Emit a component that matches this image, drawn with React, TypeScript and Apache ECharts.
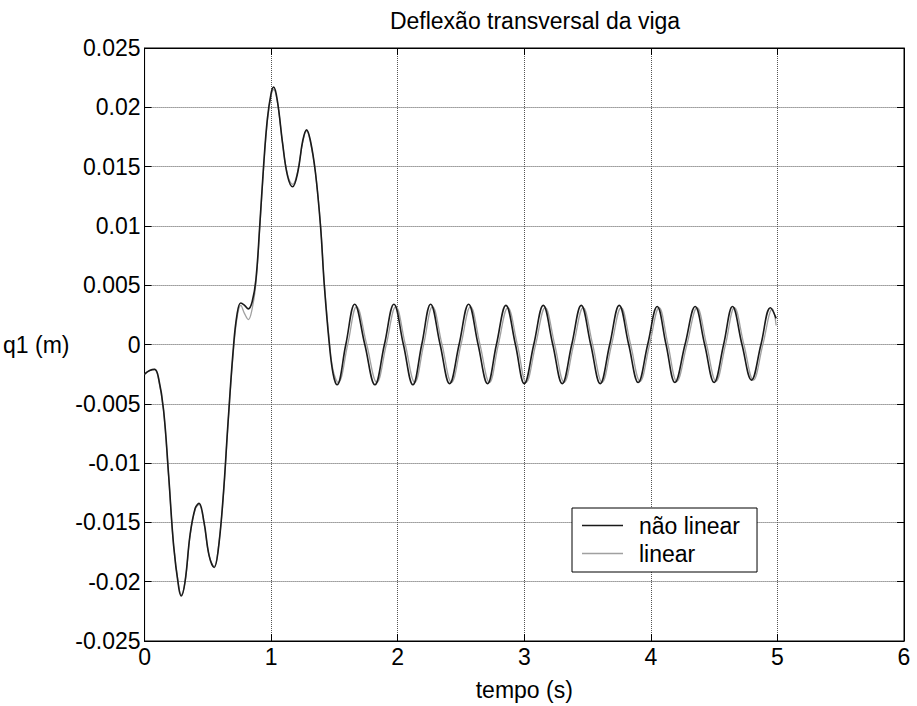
import React, { useEffect, useRef } from 'react';
import * as echarts from 'echarts';

const chartTitle = 'Deflexão transversal da viga';
const xAxisName = 'tempo (s)';
const yAxisName = 'q1 (m)';
const seriesNames = ['não linear', 'linear'];

const xMin = 0;
const xMax = 6;
const xStep = 1;
const yMin = -0.025;
const yMax = 0.025;
const yStep = 0.005;

// "não linear" response
const timeNaoLinear = [
  0.0, 0.04, 0.08, 0.11, 0.15, 0.19, 0.23, 0.27, 0.29, 0.32,
  0.36, 0.4, 0.43, 0.47, 0.51, 0.55, 0.58, 0.62, 0.66, 0.7,
  0.73, 0.76, 0.79, 0.82, 0.85, 0.88, 0.91, 0.94, 0.97, 1.0,
  1.02, 1.05, 1.09, 1.13, 1.17, 1.21, 1.25, 1.28, 1.31, 1.35,
  1.39, 1.42, 1.46, 1.49, 1.52,
  1.59, 1.66, 1.74, 1.82, 1.895, 1.97, 2.045, 2.12, 2.19, 2.26,
  2.335, 2.41, 2.485, 2.56, 2.635, 2.71, 2.78, 2.855, 2.93, 3.0,
  3.075, 3.15, 3.225, 3.3, 3.375, 3.45, 3.525, 3.6, 3.675, 3.75,
  3.825, 3.9, 3.975, 4.05, 4.12, 4.19, 4.27, 4.35, 4.425, 4.5,
  4.575, 4.645, 4.72, 4.795, 4.87, 4.945, 4.99,
];
const qNaoLinear = [
  -0.0025, -0.0022, -0.0021, -0.0028, -0.0055, -0.011, -0.017, -0.0205, -0.0212, -0.02,
  -0.016, -0.0138, -0.0134, -0.015, -0.0178, -0.0188, -0.0175, -0.013, -0.0065, -0.0005,
  0.0025, 0.0035, 0.0033, 0.003, 0.0036, 0.0055, 0.01, 0.015, 0.019, 0.0212,
  0.0217, 0.0205, 0.017, 0.0142, 0.0133, 0.0145, 0.0172, 0.0181, 0.0172, 0.0145,
  0.01, 0.005, 0.0, -0.0025, -0.0034,
  0.0, 0.0034, 0.0, -0.0034, 0.0, 0.0034, 0.0, -0.0034, 0.0, 0.0034,
  0.0, -0.0033, 0.0, 0.0034, 0.0, -0.0033, 0.0, 0.0033, 0.0, -0.0033,
  0.0, 0.0033, 0.0, -0.0033, 0.0, 0.0033, 0.0, -0.0033, 0.0, 0.0033,
  0.0, -0.0032, 0.0, 0.0032, 0.0, -0.0032, 0.0, 0.0032, 0.0, -0.0032,
  0.0, 0.0032, 0.0, -0.003, 0.0, 0.0031, 0.0022,
];

// "linear" response
const timeLinear = [
  0.0, 0.04, 0.08, 0.11, 0.15, 0.19, 0.23, 0.27, 0.29, 0.32,
  0.36, 0.4, 0.43, 0.47, 0.51, 0.55, 0.58, 0.62, 0.66, 0.7,
  0.73, 0.76, 0.79, 0.82, 0.85, 0.88, 0.91, 0.94, 0.97, 1.0,
  1.02, 1.05, 1.09, 1.13, 1.17, 1.21, 1.25, 1.28, 1.31, 1.35,
  1.39, 1.42, 1.46, 1.49, 1.53,
  1.605, 1.675, 1.755, 1.835, 1.91, 1.985, 2.06, 2.135, 2.205, 2.275,
  2.35, 2.425, 2.5, 2.575, 2.65, 2.725, 2.795, 2.87, 2.945, 3.015,
  3.09, 3.165, 3.24, 3.315, 3.39, 3.465, 3.54, 3.615, 3.69, 3.765,
  3.84, 3.915, 3.99, 4.065, 4.135, 4.205, 4.285, 4.365, 4.44, 4.515,
  4.59, 4.66, 4.735, 4.81, 4.885, 4.96, 4.99,
];
const qLinear = [
  -0.0025, -0.0022, -0.0021, -0.0029, -0.0056, -0.0111, -0.017, -0.0204, -0.0211, -0.02,
  -0.0161, -0.0139, -0.0135, -0.0151, -0.0178, -0.0187, -0.0174, -0.0131, -0.0066, -0.0008,
  0.0022, 0.0033, 0.0026, 0.0021, 0.003, 0.0052, 0.0098, 0.0148, 0.0188, 0.021,
  0.0215, 0.0204, 0.017, 0.0143, 0.0135, 0.0146, 0.0171, 0.018, 0.0171, 0.0145,
  0.0101, 0.0052, 0.0003, -0.0022, -0.0032,
  0.0, 0.0032, 0.0, -0.0032, 0.0, 0.0032, 0.0, -0.0032, 0.0, 0.0032,
  0.0, -0.0032, 0.0, 0.0032, 0.0, -0.0032, 0.0, 0.0031, 0.0, -0.0032,
  0.0, 0.0031, 0.0, -0.0032, 0.0, 0.0031, 0.0, -0.0032, 0.0, 0.0031,
  0.0, -0.0031, 0.0, 0.0031, 0.0, -0.0031, 0.0, 0.0031, 0.0, -0.0031,
  0.0, 0.0031, 0.0, -0.003, 0.0, 0.003, 0.0016,
];

const FONT = "'Liberation Sans', Arial, Helvetica, sans-serif";
const FS = 23;

function fmtY(v: number): string {
  const r = Math.round(v * 1000) / 1000;
  return r === 0 ? '0' : String(r);
}

export default function App() {
  const ref = useRef<HTMLDivElement>(null);

  useEffect(() => {
    document.body.style.margin = '0';
    if (!ref.current) return;
    const chart = echarts.init(ref.current, null, { renderer: 'svg' });

    const axisCommon = {
      type: 'value' as const,
      axisLine: { show: true, onZero: false, lineStyle: { color: '#000', width: 1 } },
      axisTick: { show: true, inside: true, length: 7, lineStyle: { color: '#000' } },
    };

    const option = {
      animation: false,
      backgroundColor: '#fff',
      textStyle: { fontFamily: FONT, color: '#000' },
      title: {
        text: chartTitle,
        left: 530,
        top: 4,
        textAlign: 'center',
        textStyle: { fontFamily: FONT, fontSize: FS, fontWeight: 'normal', color: '#000' },
      },
      grid: {
        left: 142,
        right: 13,
        top: 48,
        bottom: 65,
        show: true,
        borderColor: '#000',
        borderWidth: 1,
        backgroundColor: '#fff',
      },
      legend: {
        orient: 'vertical',
        left: 572,
        top: 508,
        itemWidth: 41,
        itemHeight: 1.5,
        itemGap: 5,
        padding: [6, 17, 7, 10],
        borderColor: '#000',
        borderWidth: 1,
        borderRadius: 0,
        backgroundColor: '#fff',
        textStyle: { fontFamily: FONT, fontSize: FS, color: '#000', padding: [0, 0, 0, 11] },
        data: seriesNames.map((name) => ({ name, icon: 'rect' })),
      },
      xAxis: [
        {
          ...axisCommon,
          position: 'bottom',
          min: xMin,
          max: xMax,
          interval: xStep,
          name: xAxisName,
          nameLocation: 'middle',
          nameGap: 37,
          nameTextStyle: { fontFamily: FONT, fontSize: FS, color: '#000' },
          axisLabel: { fontFamily: FONT, fontSize: FS, color: '#000', margin: 4 },
          splitLine: { show: true, lineStyle: { type: 'dotted', color: '#555', width: 1 } },
        },
        {
          ...axisCommon,
          position: 'top',
          min: xMin,
          max: xMax,
          interval: xStep,
          axisLabel: { show: false },
          splitLine: { show: false },
        },
      ],
      yAxis: [
        {
          ...axisCommon,
          position: 'left',
          min: yMin,
          max: yMax,
          interval: yStep,
          name: yAxisName,
          nameLocation: 'middle',
          nameRotate: 0,
          nameGap: 58,
          nameTextStyle: { fontFamily: FONT, fontSize: FS, color: '#000' },
          axisLabel: { fontFamily: FONT, fontSize: FS, color: '#000', margin: 4, formatter: fmtY },
          splitLine: { show: true, lineStyle: { type: 'dotted', color: '#555', width: 1 } },
        },
        {
          ...axisCommon,
          position: 'right',
          min: yMin,
          max: yMax,
          interval: yStep,
          axisLabel: { show: false },
          splitLine: { show: false },
        },
      ],
      series: [
        {
          name: seriesNames[1],
          type: 'line',
          symbol: 'none',
          smooth: 0.4,
          z: 2,
          data: timeLinear.map((t, i) => [t, qLinear[i]]),
          lineStyle: { color: '#a0a0a0', width: 1.3 },
          itemStyle: { color: '#a0a0a0' },
        },
        {
          name: seriesNames[0],
          type: 'line',
          symbol: 'none',
          smooth: 0.4,
          z: 3,
          data: timeNaoLinear.map((t, i) => [t, qNaoLinear[i]]),
          lineStyle: { color: '#1a1a1a', width: 1.6 },
          itemStyle: { color: '#1a1a1a' },
        },
      ],
    };

    chart.setOption(option as any);
    return () => {
      chart.dispose();
    };
  }, []);

  return <div ref={ref} style={{ width: 917, height: 706 }} />;
}
